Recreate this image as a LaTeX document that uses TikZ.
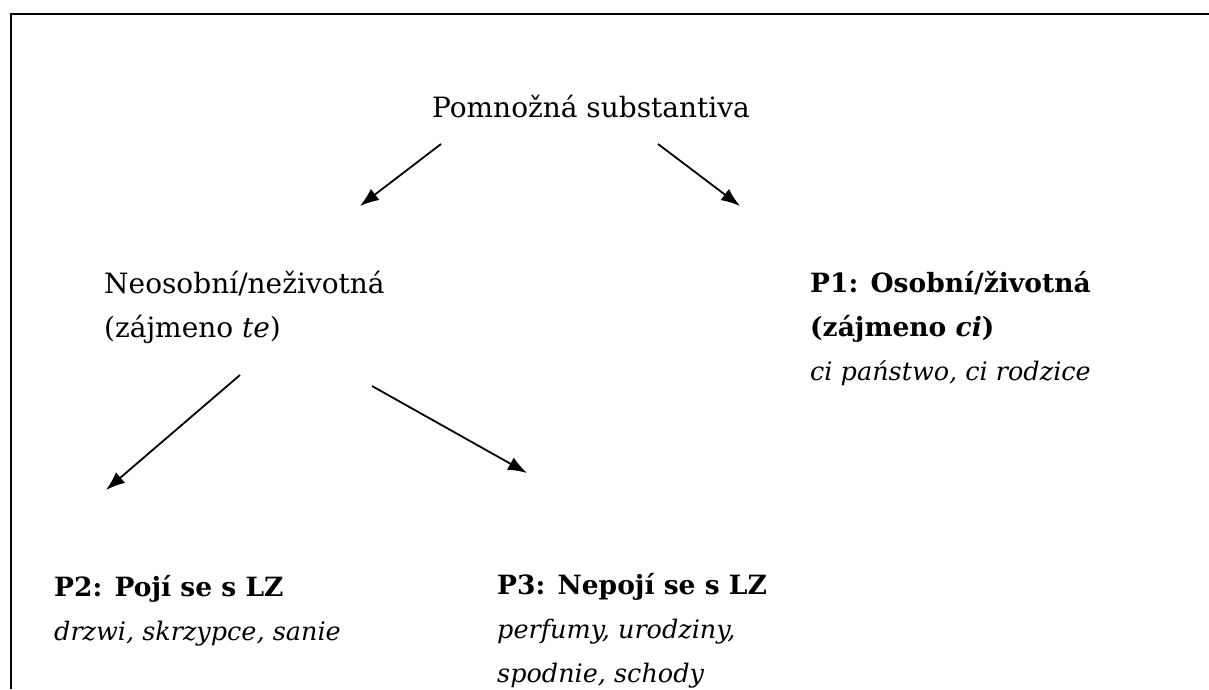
\documentclass[tikz,border=0pt]{standalone}
\usepackage{fontspec}
\setmainfont{DejaVu Serif}
\usetikzlibrary{positioning,arrows.meta}
\newcommand{\headtxt}[1]{{\fontsize{26.5}{44}\selectfont\bfseries #1}}
\newcommand{\extxt}[1]{{\fontsize{25.5}{44}\selectfont\itshape #1}}
\tikzset{ %
  ,>={Latex[length=19pt,width=14pt]}
  ,every node/.style={font=\fontsize{28}{44}\selectfont, inner sep=0, align=left}
  ,txt/.style={anchor=base west}
  ,ptr/.style={->, line width=1.8pt}
  ,frame/.style={line width=2.8pt}
}

\begin{document}
\begin{tikzpicture}[x=1pt,y=-1pt]
  \useasboundingbox (0,0) rectangle (1209,689);
  \draw[frame] (1209,14) -- (11,14) -- (11,689);
  % base = baseline of the last line
  \draw
  node[anchor=base] (root) at (591,117) {Pomnožná substantiva}
  node[txt] (neo) at (104,337) {Neosobní/neživotná\\(zájmeno \textit{te})}
  node[txt] (p1) at (810,380) {\headtxt{P1: Osobní/životná}\\\headtxt{(zájmeno \textit{ci})}\\\extxt{ci państwo, ci rodzice}}
  node[txt] (p2) at (54,640) {\headtxt{P2: Pojí se s LZ}\\\extxt{drzwi, skrzypce, sanie}}
  node[txt] (p3) at (497,682) {\headtxt{P3: Nepojí se s LZ}\\\extxt{perfumy, urodziny,}\\\extxt{spodnie, schody}};
  % arrow ends
  \coordinate (root-l) at (441,144);
  \coordinate (root-r) at (658,144);
  \coordinate (neo-in) at (360,206);
  \coordinate (p1-in) at (740,206);
  \coordinate (neo-l) at (240,375);
  \coordinate (neo-r) at (372,386);
  \coordinate (p2-in) at (106,490);
  \coordinate (p3-in) at (527,473);
  \draw [ptr] (root-l) -- (neo-in);
  \draw [ptr] (root-r) -- (p1-in);
  \draw [ptr] (neo-l) -- (p2-in);
  \draw [ptr] (neo-r) -- (p3-in);
\end{tikzpicture}
\end{document}
